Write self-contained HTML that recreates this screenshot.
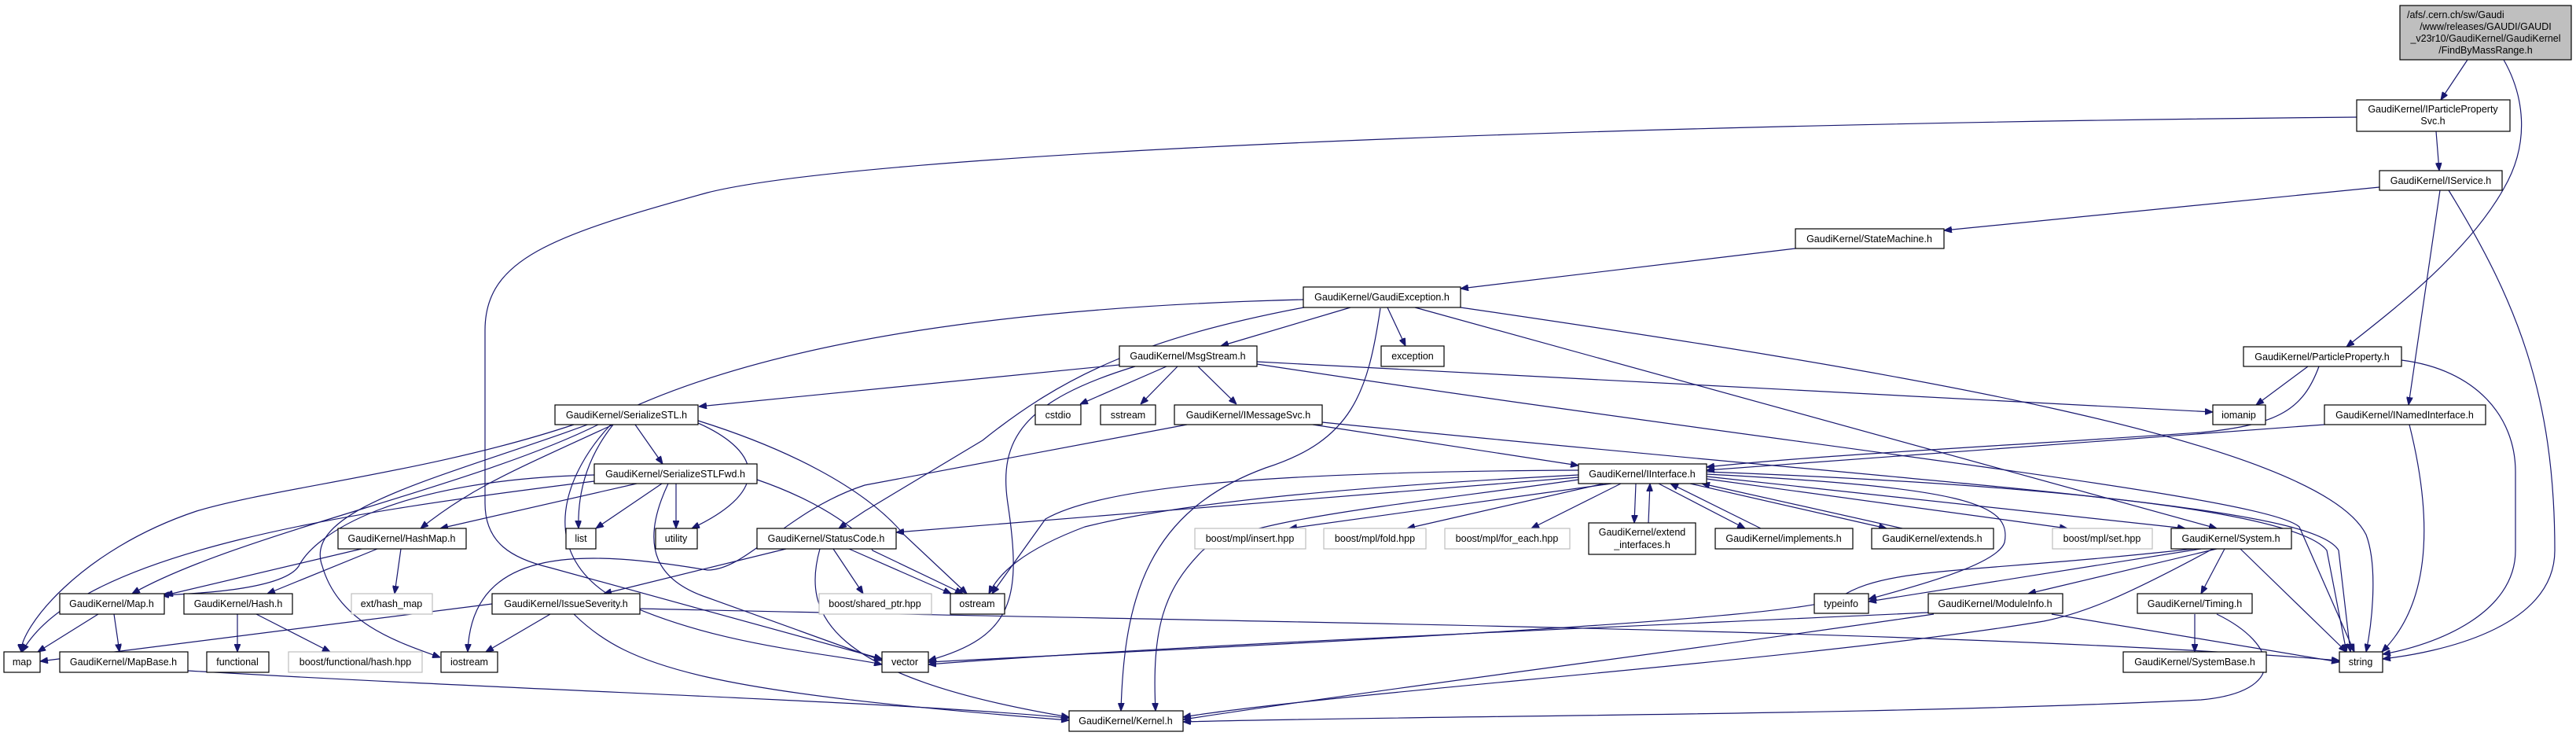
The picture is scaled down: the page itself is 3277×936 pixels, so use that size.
<!DOCTYPE html>
<html><head><meta charset="utf-8"><style>
html,body{margin:0;padding:0;background:#fff}
svg{display:block}
text{font-family:"Liberation Sans",sans-serif;font-size:12.5px;fill:#000;text-anchor:middle}
.n{fill:#fff;stroke:#000;stroke-width:1.2}
.g{fill:#fff;stroke:#bfbfbf;stroke-width:1.2}
.e{fill:none;stroke:#191970;stroke-width:1.2;marker-end:url(#a)}
</style></head><body>
<svg width="3277" height="936" viewBox="0 0 3277 936" xmlns="http://www.w3.org/2000/svg">
<defs><marker id="a" viewBox="0 0 10 8" refX="10" refY="4" markerWidth="10" markerHeight="8" markerUnits="userSpaceOnUse" orient="auto"><path d="M0,0 L10,4 L0,8 z" fill="#191970" stroke="#191970"/></marker></defs>
<g>
<path class="e" d="M3139,76 L3105,127"/>
<path class="e" d="M3185,76 C3210,120 3220,180 3185,240 C3140,320 3050,390 2985,441"/>
<path class="e" d="M3099,167 L3103,217"/>
<path class="e" d="M2998,149 C2000,158 1100,195 900,245 C700,300 617,330 617,420 L617,640 C617,690 650,710 700,722 L1122,838"/>
<path class="e" d="M3027,238 L2473,293"/>
<path class="e" d="M3104,242 L3064,515"/>
<path class="e" d="M3115,242 C3200,380 3250,500 3250,700 C3250,800 3100,830 3031,838"/>
<path class="e" d="M2284,316 L1858,367"/>
<path class="e" d="M1718,391 L1553,440"/>
<path class="e" d="M1765,391 L1788,440"/>
<path class="e" d="M1658,381 C1300,390 1000,430 800,520 C600,600 380,640 410,720 C430,790 500,815 560,836"/>
<path class="e" d="M1664,390 C1450,430 1350,480 1250,560 L1100,650 L1067,672"/>
<path class="e" d="M1756,392 C1740,500 1720,560 1610,595 C1460,650 1430,760 1426,904"/>
<path class="e" d="M1800,391 L2820,672"/>
<path class="e" d="M1858,391 C2400,470 2950,560 3010,680 C3025,720 3018,790 3010,829"/>
<path class="e" d="M1424,464 L889,517"/>
<path class="e" d="M1484,466 L1374,514"/>
<path class="e" d="M1498,466 L1451,514"/>
<path class="e" d="M1524,466 L1573,514"/>
<path class="e" d="M1444,466 C1300,510 1270,560 1282,640 C1300,760 1290,810 1181,840"/>
<path class="e" d="M1599,460 L2815,524"/>
<path class="e" d="M1599,463 C2300,570 2880,630 2925,670 L2995,829"/>
<path class="e" d="M1670,540 L2008,592"/>
<path class="e" d="M1510,540 L1100,617 C1000,650 950,725 900,725 C750,700 600,690 595,829"/>
<path class="e" d="M1682,537 C2500,620 2940,640 2975,700 L2990,829"/>
<path class="e" d="M808,540 L843,590"/>
<path class="e" d="M730,540 C550,600 350,620 250,650 C100,700 25,800 27,829"/>
<path class="e" d="M761,540 C600,620 300,680 168,755"/>
<path class="e" d="M780,540 C650,600 600,620 535,672"/>
<path class="e" d="M780,540 C740,590 735,640 736,672"/>
<path class="e" d="M888,538 C960,570 990,620 880,672"/>
<path class="e" d="M777,540 C720,600 680,700 780,760 C900,820 1050,830 1122,845"/>
<path class="e" d="M888,535 C1000,570 1100,620 1150,680 L1230,755"/>
<path class="e" d="M810,615 L560,672"/>
<path class="e" d="M756,612 C450,650 100,700 28,829"/>
<path class="e" d="M756,604 C500,610 400,680 380,720 C360,750 250,755 205,757"/>
<path class="e" d="M842,615 L758,672"/>
<path class="e" d="M860,615 L860,672"/>
<path class="e" d="M850,615 C810,700 840,740 900,760 L1122,840"/>
<path class="e" d="M963,610 C1050,640 1100,680 1110,700 L1225,755"/>
<path class="e" d="M460,698 L210,757"/>
<path class="e" d="M480,698 L340,755"/>
<path class="e" d="M510,698 L502,755"/>
<path class="e" d="M125,781 L48,829"/>
<path class="e" d="M145,781 L152,829"/>
<path class="e" d="M302,781 L302,829"/>
<path class="e" d="M326,781 L420,829"/>
<path class="e" d="M239,853 C700,880 1100,890 1360,913"/>
<path class="e" d="M626,768 L51,841"/>
<path class="e" d="M700,781 L618,829"/>
<path class="e" d="M730,781 C800,850 900,880 1360,916"/>
<path class="e" d="M814,774 C1500,790 2500,800 2976,840"/>
<path class="e" d="M1000,698 L768,755"/>
<path class="e" d="M1060,698 L1098,755"/>
<path class="e" d="M1080,698 L1210,755"/>
<path class="e" d="M1043,698 C1020,780 1050,860 1360,912"/>
<path class="e" d="M2008,607 L1140,677"/>
<path class="e" d="M2008,604 C1700,620 1500,640 1380,670 C1300,700 1270,730 1258,755"/>
<path class="e" d="M2008,598 C1600,600 1400,620 1330,660 L1262,755"/>
<path class="e" d="M2008,610 C1800,640 1580,660 1530,700 C1480,750 1465,800 1470,904"/>
<path class="e" d="M2050,615 L1640,672"/>
<path class="e" d="M2040,615 L1790,672"/>
<path class="e" d="M2062,615 L1948,672"/>
<path class="e" d="M2081,615 L2079,665"/>
<path class="e" d="M2097,665 L2099,615"/>
<path class="e" d="M2110,615 L2220,672"/>
<path class="e" d="M2240,672 L2125,615"/>
<path class="e" d="M2150,615 L2400,672"/>
<path class="e" d="M2420,672 L2165,615"/>
<path class="e" d="M2171,609 L2630,672"/>
<path class="e" d="M2171,606 L2780,672"/>
<path class="e" d="M2171,603 C2500,620 2560,640 2550,690 C2540,720 2420,750 2377,762"/>
<path class="e" d="M2171,600 C2700,620 2930,660 2960,700 L2985,829"/>
<path class="e" d="M2800,698 L2377,765"/>
<path class="e" d="M2820,698 L2580,755"/>
<path class="e" d="M2830,698 L2800,755"/>
<path class="e" d="M2850,698 L2985,829"/>
<path class="e" d="M2790,698 C2500,730 2400,720 2340,760 C2300,790 1500,825 1181,842"/>
<path class="e" d="M2815,698 C2700,760 2650,780 2600,790 C2300,840 1700,880 1505,912"/>
<path class="e" d="M2453,779 C2000,800 1500,820 1181,845"/>
<path class="e" d="M2460,781 C2200,820 1800,870 1505,915"/>
<path class="e" d="M2610,781 L2976,842"/>
<path class="e" d="M2792,781 L2792,829"/>
<path class="e" d="M2820,781 C2900,820 2910,880 2800,890 C2400,910 1800,910 1505,918"/>
<path class="e" d="M2936,466 L2870,515"/>
<path class="e" d="M2950,466 C2930,520 2900,540 2800,550 C2500,570 2300,580 2171,594"/>
<path class="e" d="M3055,458 C3150,470 3200,530 3200,600 L3200,700 C3200,780 3100,820 3031,832"/>
<path class="e" d="M2957,540 L2171,598"/>
<path class="e" d="M3065,540 C3090,640 3100,760 3030,829"/>
</g>
<g>
<rect x="3053" y="7" width="218" height="69" fill="#bfbfbf" stroke="#000" stroke-width="1.2"/>
<text x="3162" y="23" style="text-anchor:start" transform="translate(-100,0)">/afs/.cern.ch/sw/Gaudi</text>
<text x="3162" y="38">/www/releases/GAUDI/GAUDI</text>
<text x="3162" y="53">_v23r10/GaudiKernel/GaudiKernel</text>
<text x="3162" y="68">/FindByMassRange.h</text>

<rect class="n" x="2998" y="127" width="195" height="40"/><text x="3095" y="143">GaudiKernel/IParticleProperty</text><text x="3095" y="158">Svc.h</text>
<rect class="n" x="3027" y="217" width="156" height="25"/><text x="3105" y="234">GaudiKernel/IService.h</text>
<rect class="n" x="2284" y="291" width="189" height="25"/><text x="2378" y="308">GaudiKernel/StateMachine.h</text>
<rect class="n" x="1658" y="365" width="200" height="26"/><text x="1758" y="382">GaudiKernel/GaudiException.h</text>
<rect class="n" x="1424" y="440" width="175" height="26"/><text x="1511" y="457">GaudiKernel/MsgStream.h</text>
<rect class="n" x="1757" y="440" width="80" height="26"/><text x="1797" y="457">exception</text>
<rect class="n" x="2854" y="441" width="201" height="25"/><text x="2954" y="458">GaudiKernel/ParticleProperty.h</text>
<rect class="n" x="706" y="515" width="182" height="25"/><text x="797" y="532">GaudiKernel/SerializeSTL.h</text>
<rect class="n" x="1317" y="515" width="58" height="25"/><text x="1346" y="532">cstdio</text>
<rect class="n" x="1400" y="515" width="70" height="25"/><text x="1435" y="532">sstream</text>
<rect class="n" x="1494" y="515" width="188" height="25"/><text x="1588" y="532">GaudiKernel/IMessageSvc.h</text>
<rect class="n" x="2815" y="515" width="67" height="25"/><text x="2848" y="532">iomanip</text>
<rect class="n" x="2957" y="515" width="205" height="25"/><text x="3059" y="532">GaudiKernel/INamedInterface.h</text>
<rect class="n" x="756" y="590" width="207" height="25"/><text x="859" y="607">GaudiKernel/SerializeSTLFwd.h</text>
<rect class="n" x="2008" y="590" width="163" height="25"/><text x="2089" y="607">GaudiKernel/IInterface.h</text>
<rect class="n" x="430" y="672" width="163" height="26"/><text x="511" y="689">GaudiKernel/HashMap.h</text>
<rect class="n" x="720" y="672" width="38" height="26"/><text x="739" y="689">list</text>
<rect class="n" x="834" y="672" width="53" height="26"/><text x="860" y="689">utility</text>
<rect class="n" x="963" y="672" width="177" height="26"/><text x="1051" y="689">GaudiKernel/StatusCode.h</text>
<rect class="g" x="1520" y="672" width="141" height="26"/><text x="1590" y="689">boost/mpl/insert.hpp</text>
<rect class="g" x="1684" y="672" width="130" height="26"/><text x="1749" y="689">boost/mpl/fold.hpp</text>
<rect class="g" x="1838" y="672" width="159" height="26"/><text x="1917" y="689">boost/mpl/for_each.hpp</text>
<rect class="n" x="2021" y="665" width="136" height="40"/><text x="2089" y="681">GaudiKernel/extend</text><text x="2089" y="697">_interfaces.h</text>
<rect class="n" x="2182" y="672" width="175" height="26"/><text x="2269" y="689">GaudiKernel/implements.h</text>
<rect class="n" x="2381" y="672" width="155" height="26"/><text x="2458" y="689">GaudiKernel/extends.h</text>
<rect class="g" x="2611" y="672" width="127" height="26"/><text x="2674" y="689">boost/mpl/set.hpp</text>
<rect class="n" x="2762" y="672" width="153" height="26"/><text x="2838" y="689">GaudiKernel/System.h</text>
<rect class="n" x="76" y="755" width="133" height="26"/><text x="142" y="772">GaudiKernel/Map.h</text>
<rect class="n" x="234" y="755" width="138" height="26"/><text x="303" y="772">GaudiKernel/Hash.h</text>
<rect class="g" x="447" y="755" width="103" height="26"/><text x="498" y="772">ext/hash_map</text>
<rect class="n" x="626" y="755" width="188" height="26"/><text x="720" y="772">GaudiKernel/IssueSeverity.h</text>
<rect class="g" x="1042" y="755" width="143" height="26"/><text x="1113" y="772">boost/shared_ptr.hpp</text>
<rect class="n" x="1209" y="755" width="69" height="26"/><text x="1243" y="772">ostream</text>
<rect class="n" x="2308" y="755" width="69" height="25"/><text x="2342" y="772">typeinfo</text>
<rect class="n" x="2453" y="755" width="171" height="25"/><text x="2538" y="772">GaudiKernel/ModuleInfo.h</text>
<rect class="n" x="2719" y="755" width="146" height="25"/><text x="2792" y="772">GaudiKernel/Timing.h</text>
<rect class="n" x="5" y="829" width="46" height="26"/><text x="28" y="846">map</text>
<rect class="n" x="76" y="829" width="163" height="26"/><text x="157" y="846">GaudiKernel/MapBase.h</text>
<rect class="n" x="263" y="829" width="79" height="26"/><text x="302" y="846">functional</text>
<rect class="g" x="367" y="829" width="170" height="26"/><text x="452" y="846">boost/functional/hash.hpp</text>
<rect class="n" x="561" y="829" width="72" height="26"/><text x="597" y="846">iostream</text>
<rect class="n" x="1122" y="829" width="59" height="26"/><text x="1151" y="846">vector</text>
<rect class="n" x="2701" y="829" width="182" height="26"/><text x="2792" y="846">GaudiKernel/SystemBase.h</text>
<rect class="n" x="2976" y="829" width="55" height="26"/><text x="3003" y="846">string</text>
<rect class="n" x="1360" y="904" width="145" height="26"/><text x="1432" y="921">GaudiKernel/Kernel.h</text>
</g>
</svg>
</body></html>
